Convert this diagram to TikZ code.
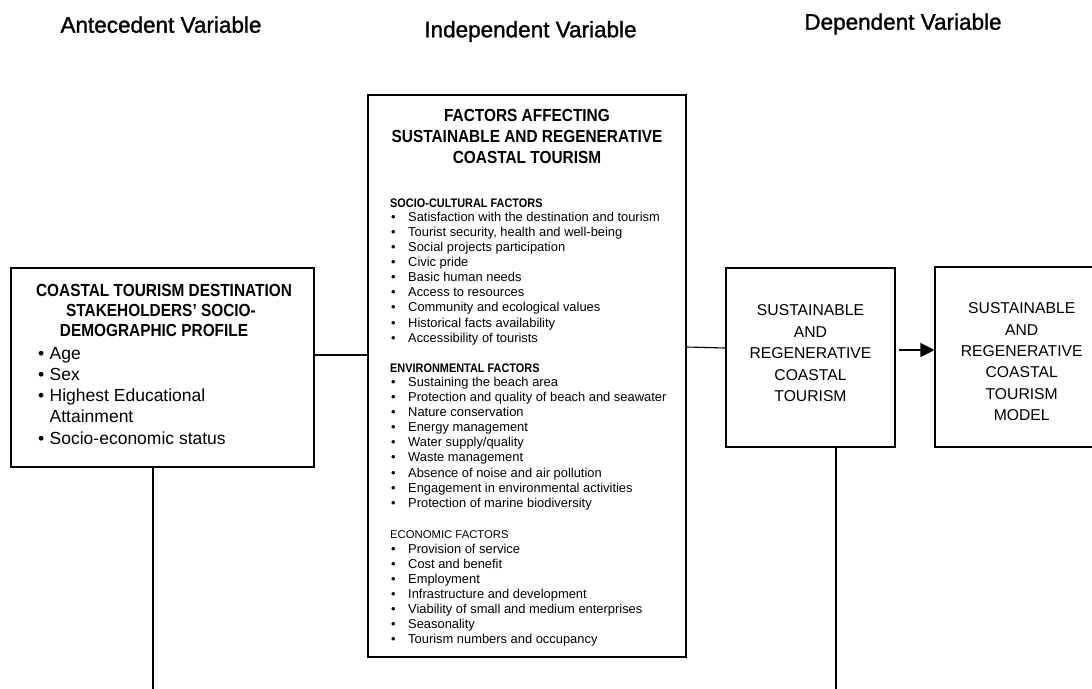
\documentclass[tikz,border=0pt]{standalone}
\usepackage{fontspec}
\setmainfont{Liberation Sans}
\newfontfamily\condfont[FakeStretch=0.88]{Liberation Sans}
\newfontfamily\headfont[FakeBold=1.3]{Liberation Sans}
\usetikzlibrary{arrows.meta}
\newcommand\itemdot[1]{\makebox[#1][l]{\textbullet}}

\begin{document}
\begin{tikzpicture}[x=1pt,y=-1pt,
  panel/.style={draw, line width=1.5pt, inner sep=0pt, fill=white},
  link/.style={line width=1.1pt},
  colhead/.style={font=\headfont\fontsize{22.5}{27}\selectfont, inner sep=0pt, anchor=base},
  boxtitle/.style={font=\condfont\bfseries\fontsize{17.5}{20}\selectfont, inner sep=0pt, anchor=base},
  secbold/.style={font=\condfont\bfseries\fontsize{12.4}{14}\selectfont, inner sep=0pt, anchor=base west},
  secplain/.style={font=\fontsize{11.3}{14}\selectfont, inner sep=0pt, anchor=base west},
  factor/.style={font=\fontsize{12.9}{15}\selectfont, inner sep=0pt, anchor=base west},
  profile/.style={font=\fontsize{17.5}{21}\selectfont, inner sep=0pt, anchor=base west},
  outcome/.style={font=\fontsize{15.7}{21}\selectfont, inner sep=0pt, anchor=base}]

\useasboundingbox (0,0) rectangle (1092,688);
\clip (0,0) rectangle (1092,688);

% column headings
\node[colhead] (hant) at (161,32.7) {Antecedent Variable};
\node[colhead] (hind) at (530.5,37.3) {Independent Variable};
\node[colhead] (hdep) at (903,29.7) {Dependent Variable};

% boxes
\node[panel, minimum width=303pt, minimum height=199pt] (lbox) at (162.5,367.5) {};
\node[panel, minimum width=318pt, minimum height=562pt] (mid) at (527,376) {};
\node[panel, minimum width=169pt, minimum height=179pt] (srct) at (810.5,357.5) {};
\node[panel, minimum width=173pt, minimum height=180pt] (model) at (1021.7,357) {};

% antecedent: stakeholder profile
\node[boxtitle] (lt1) at (164,296.3) {COASTAL TOURISM DESTINATION};
\node[boxtitle] (lt2) at (161,316.3) {STAKEHOLDERS’ SOCIO-};
\node[boxtitle] (lt3) at (154,336.3) {DEMOGRAPHIC PROFILE};
\node[profile] (lp1) at (38,359) {\itemdot{11.5pt}Age};
\node[profile] (lp2) at (38,380) {\itemdot{11.5pt}Sex};
\node[profile] (lp3) at (38,401) {\itemdot{11.5pt}Highest Educational};
\node[profile] (lp3b) at (49.5,422) {Attainment};
\node[profile] (lp4) at (38,444) {\itemdot{11.5pt}Socio-economic status};

% independent: factors
\node[boxtitle] (mt1) at (527,121) {FACTORS AFFECTING};
\node[boxtitle] (mt2) at (527,142) {SUSTAINABLE AND REGENERATIVE};
\node[boxtitle] (mt3) at (527,163) {COASTAL TOURISM};

\node[secbold] (soch) at (390,207) {SOCIO-CULTURAL FACTORS};
\foreach \t [count=\i from 0] in {
  Satisfaction with the destination and tourism,
  {Tourist security, health and well-being},
  Social projects participation,
  Civic pride,
  Basic human needs,
  Access to resources,
  Community and ecological values,
  Historical facts availability,
  Accessibility of tourists}
  \node[factor] (soc\i) at (391,221.3+15.1*\i) {\itemdot{17pt}\t};

\node[secbold] (envh) at (390,372.2) {ENVIRONMENTAL FACTORS};
\foreach \t [count=\i from 0] in {
  Sustaining the beach area,
  Protection and quality of beach and seawater,
  Nature conservation,
  Energy management,
  Water supply/quality,
  Waste management,
  Absence of noise and air pollution,
  Engagement in environmental activities,
  Protection of marine biodiversity}
  \node[factor] (env\i) at (391,386.4+15.1*\i) {\itemdot{17pt}\t};

\node[secplain] (ecoh) at (390,538.3) {ECONOMIC FACTORS};
\foreach \t [count=\i from 0] in {
  Provision of service,
  Cost and benefit,
  Employment,
  Infrastructure and development,
  Viability of small and medium enterprises,
  Seasonality,
  Tourism numbers and occupancy}
  \node[factor] (eco\i) at (391,553.5+15*\i) {\itemdot{17pt}\t};

% dependent: outcome and model
\foreach \t [count=\i from 0] in {SUSTAINABLE, AND, REGENERATIVE, COASTAL, TOURISM}
  \node[outcome] (so\i) at (810.5,315.6+21.5*\i) {\t};
\foreach \t [count=\i from 0] in {SUSTAINABLE, AND, REGENERATIVE, COASTAL, TOURISM, MODEL}
  \node[outcome] (mo\i) at (1021.7,313.6+21.4*\i) {\t};

% connectors
\coordinate (lbot) at (153,690);
\coordinate (rbot) at (836,690);
\draw[link] ([yshift=12.5pt]lbox.east) -- ([yshift=21pt]mid.west);
\draw[link] ([yshift=29pt]mid.east) -- ([yshift=9.5pt]srct.west);
\draw[link, -{Triangle[length=14pt,width=14pt]}] ([xshift=3pt,yshift=7.5pt]srct.east) -- ([yshift=7pt]model.west);
\draw[link] ([xshift=-9.5pt]lbox.south) -- (lbot);
\draw[link] ([xshift=25.5pt]srct.south) -- (rbot);
\end{tikzpicture}
\end{document}
